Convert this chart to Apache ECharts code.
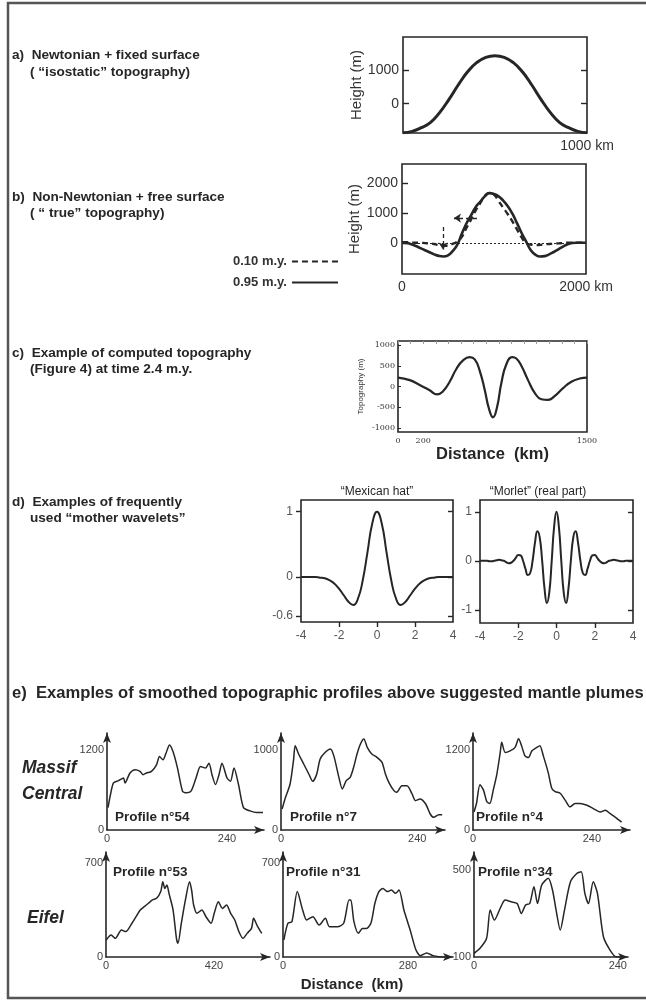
<!DOCTYPE html>
<html><head><meta charset="utf-8">
<script src="https://cdn.jsdelivr.net/npm/echarts@6/dist/echarts.min.js"></script>
<style>html,body{margin:0;padding:0;background:#fff}#c{width:646px;height:1001px}</style>
</head><body><div id="c"></div><script>
// ---------- data ----------
// a) Newtonian + fixed surface
const aDist = [0,50,100,150,200,250,300,350,400,450,500,550,600,650,700,750,800,850,900,950,1000];
const aHeight = [-875,-830,-720,-560,-260,130,560,950,1230,1390,1440,1390,1230,950,560,130,-260,-560,-720,-830,-875];
// b) Non-Newtonian + free surface
const bDist = [0,50,100,150,200,250,300,350,400,450,500,550,600,650,700,750,800,850,900,950,1000,1050,1100,1150,1200,1250,1300,1350,1400,1450,1500,1550,1600,1650,1700,1750,1800,1850,1900,1950,2000];
const bDashed = [20,20,10,0,0,-10,-20,-40,-80,-100,-90,-40,40,200,500,780,1080,1330,1580,1680,1620,1400,1180,960,720,450,180,-20,-60,-80,-70,-50,-40,-30,-20,-10,0,0,0,0,0];
const bSolid = [0,-10,-50,-110,-180,-250,-320,-390,-440,-460,-420,-280,-70,300,650,920,1200,1380,1560,1670,1640,1560,1420,1230,980,660,330,40,-250,-400,-460,-450,-390,-310,-220,-130,-50,-10,0,0,0];
const bLegend = ['0.10 m.y.', '0.95 m.y.'];
// c) computed topography
const cDist = [0,93,172,251,310,357,410,463,516,569,609,648,688,722,754,786,820,860,907,939,979,1032,1085,1138,1191,1243,1310,1376,1442,1500];
const cTopo = [215,154,38,-92,-192,-115,115,423,631,708,654,385,-77,-538,-746,-500,77,538,708,677,500,154,-154,-308,-323,-231,-38,115,192,215];
const cYTicks = [-1000,-500,0,500,1000];
const cXTicks = [0,200,1500];
// d) mother wavelets
const mhT = [-4,-3.75,-3.5,-3.25,-3,-2.75,-2.5,-2.25,-2,-1.75,-1.5,-1.25,-1,-0.75,-0.5,-0.25,0,0.25,0.5,0.75,1,1.25,1.5,1.75,2,2.25,2.5,2.75,3,3.25,3.5,3.75,4];
const mhPsi = [0,0,0,0,-0.01,-0.02,-0.05,-0.1,-0.18,-0.28,-0.38,-0.43,-0.33,-0.05,0.38,0.82,1,0.82,0.38,-0.05,-0.33,-0.43,-0.38,-0.28,-0.18,-0.1,-0.05,-0.02,-0.01,0,0,0,0];
const mlT = [-4,-3.875,-3.75,-3.625,-3.5,-3.375,-3.25,-3.125,-3,-2.875,-2.75,-2.625,-2.5,-2.375,-2.25,-2.125,-2,-1.875,-1.75,-1.625,-1.5,-1.375,-1.25,-1.125,-1,-0.875,-0.75,-0.625,-0.5,-0.375,-0.25,-0.125,0,0.125,0.25,0.375,0.5,0.625,0.75,0.875,1,1.125,1.25,1.375,1.5,1.625,1.75,1.875,2,2.125,2.25,2.375,2.5,2.625,2.75,2.875,3,3.125,3.25,3.375,3.5,3.625,3.75,3.875,4];
const mlPsi = [0,0,0,0,-0.01,-0.01,0,0.01,0.02,0.01,0,-0.03,-0.05,-0.04,0,0.06,0.12,0.11,0,-0.16,-0.29,-0.25,0,0.37,0.6,0.47,0,-0.57,-0.86,-0.64,0,0.69,1,0.69,0,-0.64,-0.86,-0.57,0,0.47,0.6,0.37,0,-0.25,-0.29,-0.16,0,0.11,0.12,0.06,0,-0.04,-0.05,-0.03,0,0.01,0.02,0.01,0,-0.01,-0.01,0,0,0,0];
const mhYTicks = [-0.6,0,1];
const mlYTicks = [-1,0,1];
const dXTicks = [-4,-2,0,2,4];
// e) smoothed topographic profiles [km, m]
const p54 = [[2,336],[7,533],[13,706],[23,741],[33,780],[36,706],[46,855],[56,904],[66,880],[72,830],[79,855],[89,880],[99,978],[105,1102],[112,1052],[118,1151],[125,1275],[132,1176],[141,929],[151,583],[158,558],[168,583],[178,780],[187,954],[197,929],[204,1003],[210,830],[217,682],[224,830],[230,1003],[240,780],[247,731],[254,929],[263,682],[273,336],[286,287],[299,262],[312,262]];
const p7 = [[2,263],[8,408],[16,575],[22,867],[25,1054],[31,950],[40,825],[49,700],[56,608],[63,700],[69,888],[78,971],[87,1013],[93,929],[102,658],[108,513],[115,617],[122,658],[128,783],[134,950],[140,1075],[146,1138],[152,1033],[160,950],[169,908],[178,846],[184,700],[190,596],[199,492],[204,471],[213,554],[222,554],[231,450],[237,367],[245,388],[255,325],[263,200],[269,158],[278,192],[284,192]];
const p4 = [[2,270],[7,398],[14,678],[21,602],[28,423],[34,398],[41,602],[48,831],[55,1163],[58,1316],[65,1163],[75,1188],[85,1239],[92,1367],[98,1265],[105,1112],[112,1086],[119,1188],[129,1239],[135,1265],[142,1112],[152,857],[159,627],[166,576],[176,551],[186,449],[196,347],[206,398],[216,398],[230,372],[243,321],[257,270],[267,296],[277,245],[287,194],[300,117]];
const p53 = [[1,127],[20,164],[36,139],[60,201],[77,189],[101,251],[117,300],[133,350],[149,375],[165,400],[181,425],[197,437],[213,487],[221,561],[229,511],[237,536],[245,474],[261,350],[274,139],[280,102],[293,251],[309,425],[325,561],[333,499],[341,387],[354,325],[373,350],[389,300],[409,251],[421,325],[437,412],[453,362],[469,387],[485,325],[501,276],[517,189],[533,139],[549,176],[566,213],[574,288],[590,226],[606,176]];
const p31 = [[2,127],[11,251],[20,263],[32,487],[44,350],[53,276],[67,300],[81,238],[95,288],[104,226],[122,226],[136,251],[148,425],[152,425],[159,263],[169,176],[178,213],[187,213],[197,251],[206,400],[215,487],[224,511],[234,487],[243,499],[252,474],[260,499],[271,350],[285,201],[298,52],[308,10],[322,30],[336,10],[349,2],[363,0]];
const p34 = [[0,117],[10,140],[21,186],[27,316],[34,270],[45,332],[52,362],[62,354],[72,346],[79,300],[86,339],[93,346],[100,423],[106,346],[113,431],[124,462],[131,408],[137,316],[144,224],[151,316],[161,446],[172,485],[179,492],[185,393],[191,346],[199,446],[206,393],[216,193],[227,132],[237,101],[247,100]];
const profileNames = ['Profile n°54','Profile n°7','Profile n°4','Profile n°53','Profile n°31','Profile n°34'];
const profileXTicks = [[0,240],[0,240],[0,240],[0,420],[0,280],[0,240]];
const profileYTicks = [[0,1200],[0,1000],[0,1200],[0,700],[0,700],[100,500]];

// ---------- layout / style ----------
const FONT = '"Liberation Sans", Arial, sans-serif';
const INK = '#262626';
const TXT = '#333';
function zip(xs, ys){ return xs.map((x,i)=>[x, ys[i]]); }
const plain = v => String(v);

const boxes = [
  {left:403, top:37, width:184, height:96},
  {left:402, top:164, width:184, height:110},
  {left:398, top:341, width:189, height:91},
  {left:301, top:500, width:152, height:122},
  {left:480, top:500, width:153, height:123}
];
const profBoxes = [
  {left:107, top:733, width:157, height:97, xMax:314, yMin:0, yMax:1455},
  {left:281, top:733, width:164, height:97, xMax:289, yMin:0, yMax:1212},
  {left:473, top:733, width:157, height:97, xMax:317, yMin:0, yMax:1455},
  {left:106, top:852, width:164, height:105, xMax:638, yMin:0, yMax:782},
  {left:283, top:852, width:170, height:105, xMax:381, yMin:0, yMax:782},
  {left:474, top:852, width:154, height:105, xMax:257, yMin:100, yMax:583}
];
const profLabelPos = [[115,817],[290,817],[476,817],[113,872],[286,872],[478,872]];
const profData = [p54,p7,p4,p53,p31,p34];

const grid = [];
boxes.forEach(b => grid.push(Object.assign({show:true, borderColor:INK, borderWidth:1.6, backgroundColor:'rgba(0,0,0,0)', containLabel:false, outerBoundsMode:'none'}, b)));
profBoxes.forEach(b => grid.push({left:b.left, top:b.top, width:b.width, height:b.height, containLabel:false, outerBoundsMode:'none'}));

const noLine = {show:false, onZero:false};
const noSplit = {show:false};
function lbl(values, size, extra){ return Object.assign({customValues:values, fontSize:size, color:TXT, fontFamily:FONT, formatter:plain}, extra||{}); }
function tick(values, inside, len, w){ return {show:true, customValues:values, inside:inside, length:len, lineStyle:{color:INK, width:w||1.4}}; }

const xAxis = [
  // 0: a
  {gridIndex:0, type:'value', min:0, max:1000, axisLine:noLine, splitLine:noSplit, axisTick:{show:false},
   axisLabel:lbl([1000], 14, {margin:6, formatter:v=>v+' km'})},
  // 1: b
  {gridIndex:1, type:'value', min:0, max:2000, axisLine:noLine, splitLine:noSplit, axisTick:{show:false},
   axisLabel:lbl([0,2000], 14, {margin:6, formatter:v=> v===2000 ? '2000 km' : String(v)})},
  // 2: c bottom
  {gridIndex:2, type:'value', min:0, max:1500, axisLine:noLine, splitLine:noSplit, axisTick:{show:false},
   axisLabel:lbl(cXTicks, 8, {margin:5, fontFamily:'"DejaVu Serif", serif'}),
   name:'Distance  (km)', nameLocation:'middle', nameGap:11,
   nameTextStyle:{fontSize:16.5, fontWeight:'bold', color:INK, fontFamily:FONT, verticalAlign:'top'}},
  // 3: c top ticks
  {gridIndex:2, type:'value', position:'top', min:0, max:1500, interval:100, axisLine:noLine, splitLine:noSplit,
   axisTick:{show:true, inside:true, length:3, lineStyle:{color:'#999', width:1}}, axisLabel:{show:false}},
  // 4: d1
  {gridIndex:3, type:'value', min:-4, max:4, axisLine:noLine, splitLine:noSplit,
   axisTick:tick([-2,0,2], false, 5), axisLabel:lbl(dXTicks, 12, {margin:8, color:'#555'})},
  // 5: d2
  {gridIndex:4, type:'value', min:-4, max:4, axisLine:noLine, splitLine:noSplit,
   axisTick:tick([-2,0,2], false, 5), axisLabel:lbl(dXTicks, 12, {margin:8, color:'#555'})}
];
const yAxis = [
  // 0: a left
  {gridIndex:0, type:'value', min:-880, max:2000, axisLine:noLine, splitLine:noSplit,
   axisTick:tick([0,1000], true, 6), axisLabel:lbl([0,1000], 14, {margin:4}),
   name:'Height (m)', nameLocation:'middle', nameGap:38, nameTextStyle:{fontSize:15, color:TXT, fontFamily:FONT}},
  // 1: a right
  {gridIndex:0, type:'value', position:'right', min:-880, max:2000, axisLine:noLine, splitLine:noSplit,
   axisTick:tick([0,1000], true, 6), axisLabel:{show:false}},
  // 2: b
  {gridIndex:1, type:'value', min:-1050, max:2650, axisLine:noLine, splitLine:noSplit,
   axisTick:tick([0,1000,2000], true, 6), axisLabel:lbl([0,1000,2000], 14, {margin:4}),
   name:'Height (m)', nameLocation:'middle', nameGap:40, nameTextStyle:{fontSize:15, color:TXT, fontFamily:FONT}},
  // 3: c
  {gridIndex:2, type:'value', min:-1100, max:1100, axisLine:noLine, splitLine:noSplit,
   axisTick:tick(cYTicks, true, 3, 1), axisLabel:lbl(cYTicks, 8, {margin:3, fontFamily:'"DejaVu Serif", serif'}),
   name:'Topography (m)', nameLocation:'middle', nameGap:33, nameTextStyle:{fontSize:8, color:TXT, fontFamily:FONT}},
  // 4: d1 left
  {gridIndex:3, type:'value', min:-0.69, max:1.18, axisLine:noLine, splitLine:noSplit,
   axisTick:tick(mhYTicks, false, 5), axisLabel:lbl(mhYTicks, 12, {margin:8, color:'#555'})},
  // 5: d1 right
  {gridIndex:3, type:'value', position:'right', min:-0.69, max:1.18, axisLine:noLine, splitLine:noSplit,
   axisTick:tick(mhYTicks, true, 5), axisLabel:{show:false}},
  // 6: d2 left
  {gridIndex:4, type:'value', min:-1.27, max:1.24, axisLine:noLine, splitLine:noSplit,
   axisTick:tick(mlYTicks, false, 5), axisLabel:lbl(mlYTicks, 12, {margin:8, color:'#555'})},
  // 7: d2 right
  {gridIndex:4, type:'value', position:'right', min:-1.27, max:1.24, axisLine:noLine, splitLine:noSplit,
   axisTick:tick(mlYTicks, true, 5), axisLabel:{show:false}}
];
const arrowLine = {show:true, onZero:false, symbol:['none','arrow'], symbolSize:[6,10], lineStyle:{color:INK, width:1.6}};
profBoxes.forEach((b,i) => {
  xAxis.push({gridIndex:5+i, type:'value', min:0, max:b.xMax, axisLine:arrowLine, splitLine:noSplit, axisTick:{show:false},
    axisLabel:lbl(profileXTicks[i], 11, {margin:3, color:'#444'})});
  yAxis.push({gridIndex:5+i, type:'value', min:b.yMin, max:b.yMax, axisLine:arrowLine, splitLine:noSplit, axisTick:{show:false},
    axisLabel:lbl(profileYTicks[i], 11, {margin:3, color:'#444'})});
});

const series = [
  {type:'line', xAxisIndex:0, yAxisIndex:0, data:zip(aDist,aHeight), symbol:'none', smooth:true,
   lineStyle:{color:INK, width:3}},
  {name:bLegend[0], type:'line', xAxisIndex:1, yAxisIndex:2, data:zip(bDist,bDashed), symbol:'none', smooth:true,
   lineStyle:{color:INK, width:2.4, type:[6,4]}, itemStyle:{color:INK},
   markLine:{silent:true, symbol:['none','arrow'], symbolSize:7, label:{show:false},
     lineStyle:{color:INK, width:1.3, type:[4,3]},
     data:[[{coord:[815,830]},{coord:[565,830]}],[{coord:[446,530]},{coord:[446,-230]}]]}},
  {name:bLegend[1], type:'line', xAxisIndex:1, yAxisIndex:2, data:zip(bDist,bSolid), symbol:'none', smooth:true,
   lineStyle:{color:INK, width:2.6}, itemStyle:{color:INK},
   markLine:{silent:true, symbol:'none', label:{show:false}, lineStyle:{color:INK, width:1, type:[2,2]}, data:[{yAxis:0}]}},
  {type:'line', xAxisIndex:2, yAxisIndex:3, data:zip(cDist,cTopo), symbol:'none', smooth:0.5,
   lineStyle:{color:INK, width:2.2}},
  {type:'line', xAxisIndex:4, yAxisIndex:4, data:zip(mhT,mhPsi), symbol:'none', smooth:true,
   lineStyle:{color:INK, width:2}},
  {type:'line', xAxisIndex:5, yAxisIndex:6, data:zip(mlT,mlPsi), symbol:'none', smooth:true,
   lineStyle:{color:INK, width:2}}
];
profData.forEach((d,i) => series.push({type:'line', xAxisIndex:6+i, yAxisIndex:8+i, data:d, symbol:'none', smooth:0.25,
  lineStyle:{color:INK, width:1.5}}));

function txt(text, x, y, font, extra){
  return {type:'text', silent:true, style:Object.assign({text:text, x:x, y:y, font:font, fill:INK, verticalAlign:'middle', align:'left'}, extra||{})};
}
const B14 = 'bold 13.6px ' + FONT;
const graphic = [
  {type:'rect', silent:true, shape:{x:8, y:3, width:700, height:995}, style:{fill:'none', stroke:'#555', lineWidth:2.5}},
  txt('a)  Newtonian + fixed surface', 12, 55, B14),
  txt('( “isostatic” topography)', 30, 72, B14),
  txt('b)  Non-Newtonian + free surface', 12, 197, B14),
  txt('( “ true” topography)', 30, 213, B14),
  txt('c)  Example of computed topography', 12, 353, B14),
  txt('(Figure 4) at time 2.4 m.y.', 30, 369, B14),
  txt('d)  Examples of frequently', 12, 502, B14),
  txt('used “mother wavelets”', 30, 518, B14),
  txt('e)  Examples of smoothed topographic profiles above suggested mantle plumes', 12, 693, 'bold 16.6px ' + FONT),
  txt('“Mexican hat”', 377, 492, '12px ' + FONT, {align:'center'}),
  txt('“Morlet” (real part)', 538, 492, '12px ' + FONT, {align:'center'}),
  txt('Massif', 22, 768, 'italic bold 17.5px ' + FONT),
  txt('Central', 22, 794, 'italic bold 17.5px ' + FONT),
  txt('Eifel', 27, 918, 'italic bold 17.5px ' + FONT),
  txt('Distance  (km)', 352, 985, 'bold 15px ' + FONT, {align:'center'})
];
profileNames.forEach((n,i) => graphic.push(txt(n, profLabelPos[i][0], profLabelPos[i][1], 'bold 13.5px ' + FONT)));

const chart = echarts.init(document.getElementById('c'), null, {renderer:'canvas'});
chart.setOption({
  animation:false,
  backgroundColor:'#fff',
  textStyle:{fontFamily:FONT},
  legend:{data:bLegend, orient:'vertical', left:228, top:250, align:'right', itemWidth:46, itemHeight:10, itemGap:8,
    selectedMode:false, itemStyle:{opacity:0}, textStyle:{fontSize:13, fontWeight:'bold', color:TXT, fontFamily:FONT}},
  grid:grid, xAxis:xAxis, yAxis:yAxis, series:series, graphic:graphic
});
</script></body></html>
